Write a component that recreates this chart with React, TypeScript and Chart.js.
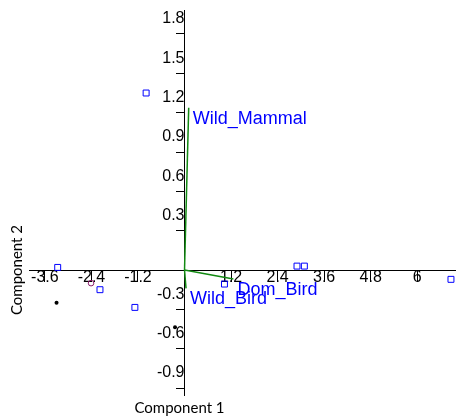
import { useEffect, useRef } from 'react';
import { Chart, registerables } from 'chart.js';

Chart.register(...registerables);

// Scores (blue squares)
const squareX = [-3.27, -2.18, -1.28, -0.99, 1.03, 2.9, 3.09, 6.87];
const squareY = [0.02, -0.15, -0.285, 1.35, -0.107, 0.03, 0.03, -0.071];
// Purple open circle
const circleX = [-2.41];
const circleY = [-0.1];
// Black dots
const dotX = [-3.3, -0.245];
const dotY = [-0.25, -0.437];
// Loadings (green vectors)
const vectorNames = ['Wild_Mammal', 'Dom_Bird', 'Wild_Bird'];
const vectorX = [0.108, 1.26, 0.039];
const vectorY = [1.238, -0.069, -0.14];
// Ticks
const xTicks = [-3.6, -2.4, -1.2, 1.2, 2.4, 3.6, 4.8, 6];
const yTicks = [-0.9, -0.6, -0.3, 0.3, 0.6, 0.9, 1.2, 1.5, 1.8];
const xTitle = 'Component 1';
const yTitle = 'Component 2';

const labelPlugin = {
  id: 'biplotLabels',
  afterDatasetsDraw(chart: any) {
    const { ctx, scales } = chart;
    const xs = scales.x;
    const ys = scales.y;
    ctx.save();
    ctx.font = '18px "Liberation Sans", Arial, sans-serif';
    ctx.fillStyle = '#0000ff';
    ctx.textAlign = 'left';
    ctx.textBaseline = 'top';
    vectorNames.forEach((name, i) => {
      const px = xs.getPixelForValue(vectorX[i]);
      const py = ys.getPixelForValue(vectorY[i]);
      ctx.fillText(name, px + 4, py + 2);
    });
    // axis titles, centred on the axes' crossing
    ctx.fillStyle = '#000';
    ctx.font = '15px Lato, sans-serif';
    ctx.textAlign = 'center';
    ctx.textBaseline = 'middle';
    const x0 = xs.getPixelForValue(0);
    const y0 = ys.getPixelForValue(0);
    ctx.fillText(xTitle, x0 - 5, chart.height - 8);
    ctx.translate(17, y0);
    ctx.rotate(-Math.PI / 2);
    ctx.fillText(yTitle, 0, 0);
    ctx.restore();
  },
};

const noPad = (s: any) => {
  s.paddingLeft = 0;
  s.paddingRight = 0;
  s.paddingTop = 0;
  s.paddingBottom = 0;
};

export default function App() {
  const ref = useRef<HTMLCanvasElement | null>(null);
  useEffect(() => {
    if (!ref.current) return;
    const vectorSets = vectorNames.map((name, i) => ({
      label: name,
      data: [
        { x: 0, y: 0 },
        { x: vectorX[i], y: vectorY[i] },
      ],
      showLine: true,
      borderColor: '#128a12',
      borderWidth: 1.5,
      pointRadius: 0,
      order: 2,
    }));
    const chart = new Chart(ref.current, {
      type: 'scatter',
      data: {
        datasets: [
          {
            label: 'squares',
            data: squareX.map((x, i) => ({ x, y: squareY[i] })),
            pointStyle: 'rect',
            radius: 4.2,
            borderColor: '#0000ff',
            backgroundColor: 'rgba(0,0,0,0)',
            borderWidth: 1,
            order: 1,
          },
          {
            label: 'circle',
            data: circleX.map((x, i) => ({ x, y: circleY[i] })),
            pointStyle: 'circle',
            radius: 2.8,
            borderColor: '#8b1a6b',
            backgroundColor: 'rgba(0,0,0,0)',
            borderWidth: 1,
            order: 1,
          },
          {
            label: 'dots',
            data: dotX.map((x, i) => ({ x, y: dotY[i] })),
            pointStyle: 'circle',
            radius: 2,
            borderColor: '#000',
            backgroundColor: '#000',
            borderWidth: 0,
            order: 1,
          },
          ...vectorSets,
        ] as any,
      },
      options: {
        animation: false,
        responsive: false,
        events: [],
        layout: { autoPadding: false, padding: { left: 29, right: 0, top: 10, bottom: 21 } },
        plugins: { legend: { display: false }, tooltip: { enabled: false } },
        scales: {
          x: {
            type: 'linear',
            position: { y: 0 } as any,
            min: -4.01,
            max: 7.0,
            afterBuildTicks: (s: any) => {
              s.ticks = xTicks.map((v) => ({ value: v }));
            },
            afterFit: noPad,
            grid: { display: true, drawOnChartArea: false, drawTicks: true, tickLength: 11, color: '#000' },
            border: { display: true, color: '#000', width: 1 },
            ticks: {
              color: '#000',
              padding: -13,
              maxRotation: 0,
              autoSkip: false,
              font: { family: '"Liberation Sans", Arial, sans-serif', size: 16 },
              callback: (v: any) => String(v),
            },
          },
          y: {
            type: 'linear',
            position: { x: 0 } as any,
            min: -0.953,
            max: 1.983,
            afterBuildTicks: (s: any) => {
              s.ticks = yTicks.map((v) => ({ value: v }));
            },
            afterFit: noPad,
            grid: { display: true, drawOnChartArea: false, drawTicks: true, tickLength: 8, color: '#000' },
            border: { display: true, color: '#000', width: 1 },
            ticks: {
              color: '#000',
              padding: 1,
              labelOffset: -15,
              autoSkip: false,
              font: { family: '"Liberation Sans", Arial, sans-serif', size: 16 },
              callback: (v: any) => String(v),
            },
          },
        },
      },
      plugins: [labelPlugin],
    });
    return () => chart.destroy();
  }, []);
  return (
    <div style={{ position: 'absolute', left: 0, top: 0, width: 456, height: 416, background: '#fff' }}>
      <canvas ref={ref} width={456} height={416} style={{ display: 'block' }} />
    </div>
  );
}
